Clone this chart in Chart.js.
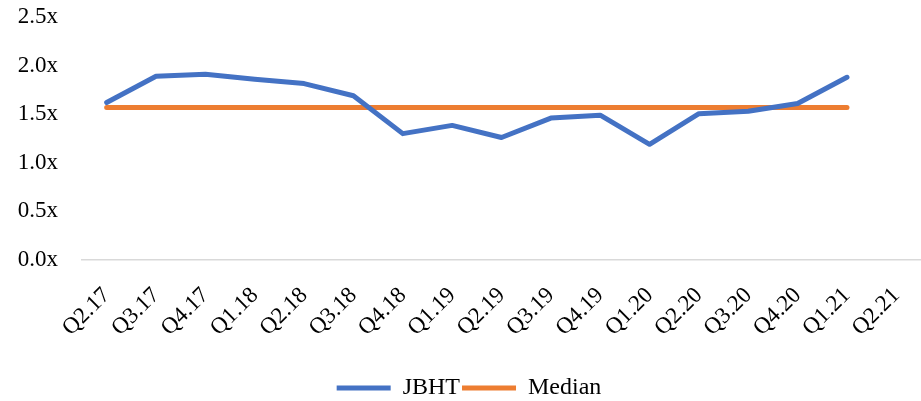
<!DOCTYPE html>
<html>
<head>
<meta charset="utf-8">
<script src="https://cdn.jsdelivr.net/npm/chart.js@4"></script>
<style>
    html, body { margin: 0; padding: 0; background: #fff; }
    #wrap { width: 921px; height: 401px; overflow: hidden; }
</style>
</head>
<body>
<div id="wrap"><canvas id="myChart" width="921" height="401"></canvas></div>
<script>
// Datos del gráfico
const quarters = ['Q2.17', 'Q3.17', 'Q4.17', 'Q1.18', 'Q2.18', 'Q3.18', 'Q4.18', 'Q1.19', 'Q2.19',
    'Q3.19', 'Q4.19', 'Q1.20', 'Q2.20', 'Q3.20', 'Q4.20', 'Q1.21', 'Q2.21'];
const jbhtValues = [1.62, 1.89, 1.91, 1.86, 1.815, 1.69, 1.30, 1.385, 1.26,
    1.46, 1.49, 1.19, 1.505, 1.53, 1.61, 1.88, null];
const medianValues = [1.57, 1.57, 1.57, 1.57, 1.57, 1.57, 1.57, 1.57, 1.57,
    1.57, 1.57, 1.57, 1.57, 1.57, 1.57, 1.57, null];
const yTicks = [0, 0.5, 1.0, 1.5, 2.0, 2.5];

const serif = "'Liberation Serif', 'DejaVu Serif', serif";

document.addEventListener('DOMContentLoaded', function() {
    const ctx = document.getElementById('myChart').getContext('2d');

    new Chart(ctx, {
        type: 'line',
        data: {
            labels: quarters,
            datasets: [
                {
                    label: 'JBHT',
                    data: jbhtValues,
                    borderColor: '#4472C4',
                    backgroundColor: '#4472C4',
                    borderWidth: 5,
                    borderCapStyle: 'round',
                    borderJoinStyle: 'round',
                    pointRadius: 0,
                    tension: 0
                },
                {
                    label: 'Median',
                    data: medianValues,
                    borderColor: '#ED7D31',
                    backgroundColor: '#ED7D31',
                    borderWidth: 5,
                    borderCapStyle: 'round',
                    borderJoinStyle: 'round',
                    pointRadius: 0,
                    tension: 0
                }
            ]
        },
        options: {
            responsive: false,
            animation: false,
            layout: {
                // la leyenda va más abajo que el margen normal
                padding: { top: 0, left: 17, right: 0, bottom: -9 }
            },
            plugins: {
                legend: {
                    position: 'bottom',
                    labels: {
                        usePointStyle: true,
                        pointStyleWidth: 54,
                        pointStyle: 'line',
                        boxHeight: 24,
                        padding: 2,
                        color: '#000',
                        font: { family: serif, size: 24 }
                    }
                },
                tooltip: { enabled: false }
            },
            scales: {
                x: {
                    offset: true,
                    grid: { display: false, drawTicks: false },
                    border: { display: true, color: '#D9D9D9', width: 1.5 },
                    ticks: {
                        color: '#000',
                        font: { family: serif, size: 23 },
                        minRotation: 45,
                        maxRotation: 45,
                        autoSkip: false,
                        padding: 22
                    },
                    afterFit: function(scale) {
                        // quitar el relleno lateral de las etiquetas giradas
                        scale.paddingLeft = 0;
                        scale.paddingRight = 0;
                        scale.height = 114;
                    }
                },
                y: {
                    min: 0,
                    max: 2.5,
                    grid: { display: false, drawTicks: false },
                    border: { display: false },
                    afterBuildTicks: function(scale) {
                        scale.ticks = yTicks.map(v => ({ value: v }));
                    },
                    ticks: {
                        color: '#000',
                        padding: 24,
                        font: { family: serif, size: 23 },
                        callback: function(value) {
                            return value.toFixed(1) + 'x';
                        }
                    },
                    afterFit: function(scale) {
                        scale.width = 65;
                        scale.paddingTop = 17;
                        scale.paddingBottom = 0;
                    }
                }
            }
        }
    });
});
</script>
</body>
</html>
